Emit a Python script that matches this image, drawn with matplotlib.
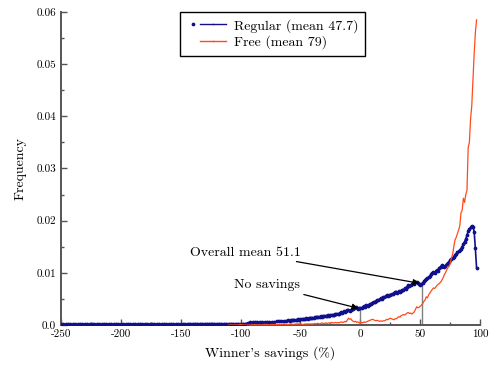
import numpy as np
import matplotlib
matplotlib.use('Agg')
import matplotlib.pyplot as plt
from matplotlib.lines import Line2D
from matplotlib.legend_handler import HandlerTuple
from matplotlib.ticker import MultipleLocator, FixedLocator, FixedFormatter

plt.rcParams['font.family'] = 'cmr10'
plt.rcParams['mathtext.fontset'] = 'cm'
plt.rcParams['axes.unicode_minus'] = False

# Regular auctions: coarse bins on the left, 1% bins on the right
blue_x_left = np.arange(-250, -60, 2)
blue_y_left = [
    0.0001, 0.0001, 0.0001, 0.0001, 0.0001, 0.0001, 0.0001, 0.0001, 0.0001, 0.0001,
    0.0002, 0.0001, 0.0001, 0.0001, 0.0001, 0.0001, 0.0001, 0.0001, 0.0001, 0.0001,
    0.0001, 0.0001, 0.0001, 0.0001, 0.0001, 0.0001, 0.0001, 0.0001, 0.0001, 0.0001,
    0.0001, 0.0001, 0.0001, 0.0001, 0.0001, 0.0002, 0.0001, 0.0001, 0.0001, 0.0001,
    0.0001, 0.0001, 0.0001, 0.0001, 0.0001, 0.0001, 0.0001, 0.0001, 0.0001, 0.0001,
    0.0002, 0.0001, 0.0001, 0.00025, 0.00025, 0.00025, 0.00025, 0.00025, 0.00025, 0.00025,
    0.00025, 0.00025, 0.00025, 0.00025, 0.00025, 0.00025, 0.00025, 0.00025, 0.00025, 0.00025,
    0.00025, 0.00025, 0.00025, 0.00025, 0.00025, 0.00025, 0.00025, 0.00025, 0.0004, 0.0005,
    0.0005, 0.0005, 0.0005, 0.0005, 0.0005, 0.0005, 0.0006, 0.0006, 0.0006, 0.0006,
    0.0007, 0.0007, 0.0007, 0.0008, 0.0008,
]
blue_x_right = np.arange(-60, 98)
blue_y_right = [
    0.0009, 0.0008, 0.0009, 0.0009, 0.0010, 0.0009, 0.0010, 0.0010, 0.0011, 0.0010,
    0.0011, 0.0011, 0.0012, 0.0011, 0.0012, 0.0013, 0.0012, 0.0013, 0.0013, 0.0014,
    0.0014, 0.0014, 0.0015, 0.0015, 0.0016, 0.0015, 0.0016, 0.0017, 0.0016, 0.0017,
    0.0017, 0.0018, 0.0018, 0.0019, 0.0018, 0.0019, 0.0020, 0.0019, 0.0020, 0.0021,
    0.0021, 0.0022, 0.0021, 0.0023, 0.0024, 0.0023, 0.0026, 0.0025, 0.0026, 0.0028,
    0.0028, 0.0027, 0.0029, 0.0030, 0.0031, 0.0033, 0.0034, 0.0032, 0.0030, 0.0032,
    0.0033, 0.0033, 0.0034, 0.0036, 0.0035, 0.0038, 0.0037, 0.0039, 0.0041, 0.0040,
    0.0043, 0.0045, 0.0044, 0.0046, 0.0048, 0.0047, 0.0049, 0.0051, 0.0050, 0.0054,
    0.0053, 0.0055, 0.0057, 0.0056, 0.0058, 0.0057, 0.0060, 0.0059, 0.0061, 0.0063,
    0.0064, 0.0062, 0.0065, 0.0063, 0.0066, 0.0068, 0.0067, 0.0070, 0.0069, 0.0073,
    0.0077, 0.0075, 0.0077, 0.0078, 0.0080, 0.0079, 0.0082, 0.0083, 0.0081, 0.0078,
    0.0077, 0.0078, 0.0081, 0.0084, 0.0086, 0.0088, 0.0090, 0.0092, 0.0094, 0.0097,
    0.0099, 0.0101, 0.0100, 0.0103, 0.0105, 0.0104, 0.0110, 0.0112, 0.0115, 0.0113,
    0.0112, 0.0114, 0.0117, 0.0119, 0.0121, 0.0124, 0.0126, 0.0128, 0.0131, 0.0134,
    0.0136, 0.0139, 0.0141, 0.0143, 0.0146, 0.0150, 0.0156, 0.0160, 0.0165, 0.0172,
    0.0180, 0.0184, 0.0187, 0.0190, 0.0188, 0.0179, 0.0147, 0.0110,
]

# Free auctions
red_x_left = np.arange(-110, -40, 2)
red_y_left = [
    0.0, 0.0, 0.0, 0.0, 0.0, 0.0001, 0.0, 0.0, 0.0, 0.0,
    0.0, 0.0001, 0.0, 0.0, 0.0, 0.0001, 0.0001, 0.0, 0.0001, 0.0001,
    0.0001, 0.0001, 0.0001, 0.0002, 0.0001, 0.0001, 0.0002, 0.0001, 0.0002, 0.0002,
    0.0002, 0.0001, 0.0002, 0.0002, 0.0002,
]
red_x_right = np.arange(-40, 98)
red_y_right = [
    0.0002, 0.0002, 0.0003, 0.0002, 0.0003, 0.0003, 0.0002, 0.0003, 0.0004, 0.0003,
    0.0003, 0.0004, 0.0003, 0.0004, 0.0004, 0.0003, 0.0005, 0.0004, 0.0004, 0.0005,
    0.0004, 0.0005, 0.0004, 0.0005, 0.0006, 0.0005, 0.0005, 0.0007, 0.0006, 0.0009,
    0.0013, 0.0011, 0.0012, 0.0009, 0.0007, 0.0006, 0.0007, 0.0005, 0.0006, 0.0004,
    0.0004, 0.0005, 0.0004, 0.0006, 0.0005, 0.0006, 0.0007, 0.0008, 0.0009, 0.0010,
    0.0011, 0.0010, 0.0009, 0.0008, 0.0009, 0.0008, 0.0007, 0.0008, 0.0007, 0.0008,
    0.0008, 0.0009, 0.0011, 0.0010, 0.0012, 0.0013, 0.0012, 0.0011, 0.0010, 0.0012,
    0.0012, 0.0014, 0.0016, 0.0015, 0.0018, 0.0019, 0.0020, 0.0019, 0.0021, 0.0023,
    0.0024, 0.0022, 0.0023, 0.0021, 0.0023, 0.0025, 0.0030, 0.0035, 0.0033, 0.0034,
    0.0036, 0.0038, 0.0041, 0.0045, 0.0048, 0.0054, 0.0052, 0.0058, 0.0061, 0.0065,
    0.0068, 0.0071, 0.0070, 0.0073, 0.0076, 0.0078, 0.0080, 0.0082, 0.0086, 0.0090,
    0.0096, 0.0100, 0.0105, 0.0110, 0.0112, 0.0118, 0.0128, 0.0135, 0.0150, 0.0163,
    0.0168, 0.0175, 0.0182, 0.0190, 0.0215, 0.0220, 0.0243, 0.0235, 0.0250, 0.0258,
    0.0340, 0.0350, 0.0395, 0.0420, 0.0470, 0.0520, 0.0560, 0.0585,
]

blue_x = np.concatenate([blue_x_left, blue_x_right])
blue_y = np.array(blue_y_left + blue_y_right)
red_x = np.concatenate([red_x_left, red_x_right])
red_y = np.array(red_y_left + red_y_right)

regular_label = "Regular (mean 47.7)"
free_label = "Free (mean 79)"
overall_mean = 51.1
no_savings = 0.0

yticks = [0.0, 0.01, 0.02, 0.03, 0.04, 0.05, 0.06]
ytick_labels = ["0.0", "0.01", "0.02", "0.03", "0.04", "0.05", "0.06"]

blue = '#10108c'
red = '#ff4a1a'
axis_gray = '#555555'

fig = plt.figure(figsize=(4.95, 3.7), dpi=100)
ax = fig.add_axes([0.123, 0.1216, 0.847, 0.846])

ax.plot(blue_x, blue_y, color=blue, lw=1.2, marker='o', ms=1.7, mec=blue, mfc=blue, zorder=3)
ax.plot(red_x, red_y, color=red, lw=0.9, zorder=4)

# vertical markers at "no savings" and the overall mean
for xv in [no_savings, overall_mean]:
    ax.vlines(xv, 0, np.interp(xv, blue_x, blue_y), color='gray', lw=1, zorder=2)

arrow = dict(arrowstyle='-|>', color='black', lw=0.9, mutation_scale=9, shrinkA=1, shrinkB=0)
ax.annotate("Overall mean 51.1", xy=(49.3, 0.0080), xytext=(-50, 0.0139),
            ha='right', va='center', fontsize=10, arrowprops=arrow)
ax.annotate("No savings", xy=(-1.6, 0.0032), xytext=(-50, 0.0076),
            ha='right', va='center', fontsize=10, arrowprops=arrow)

ax.set_xlim(-250, 100)
ax.set_ylim(0, 0.06)
ax.xaxis.set_major_locator(MultipleLocator(50))
ax.xaxis.set_minor_locator(MultipleLocator(25))
ax.yaxis.set_major_locator(FixedLocator(yticks))
ax.yaxis.set_major_formatter(FixedFormatter(ytick_labels))
ax.yaxis.set_minor_locator(MultipleLocator(0.005))

for side in ['top', 'right']:
    ax.spines[side].set_visible(False)
for side in ['left', 'bottom']:
    ax.spines[side].set_color(axis_gray)
    ax.spines[side].set_linewidth(1.4)
ax.tick_params(which='both', direction='in', color=axis_gray, width=1, labelsize=8)
ax.tick_params(which='major', length=4)
ax.tick_params(which='minor', length=2.5)

ax.set_xlabel("Winner's savings (%)", fontsize=10, labelpad=5)
ax.set_ylabel("Frequency", fontsize=10, labelpad=7)

# legend: dot to the left of the line, as in the original
dot = Line2D([], [], color=blue, marker='o', ms=1.7, ls='none')
bline = Line2D([], [], color=blue, lw=1.0)
empty = Line2D([], [], ls='none')
rline = Line2D([], [], color=red, lw=1.0)
leg = ax.legend([(dot, bline, bline), (empty, rline, rline)], [regular_label, free_label],
                handler_map={tuple: HandlerTuple(ndivide=None, pad=0)},
                loc='upper center', bbox_to_anchor=(0.505, 1.0), borderaxespad=0,
                fontsize=10, handlelength=2.8, handletextpad=0.6,
                fancybox=False, framealpha=1, edgecolor='black',
                borderpad=0.5, labelspacing=0.2)
leg.get_frame().set_linewidth(1)

fig.savefig('out.png', dpi=100)
